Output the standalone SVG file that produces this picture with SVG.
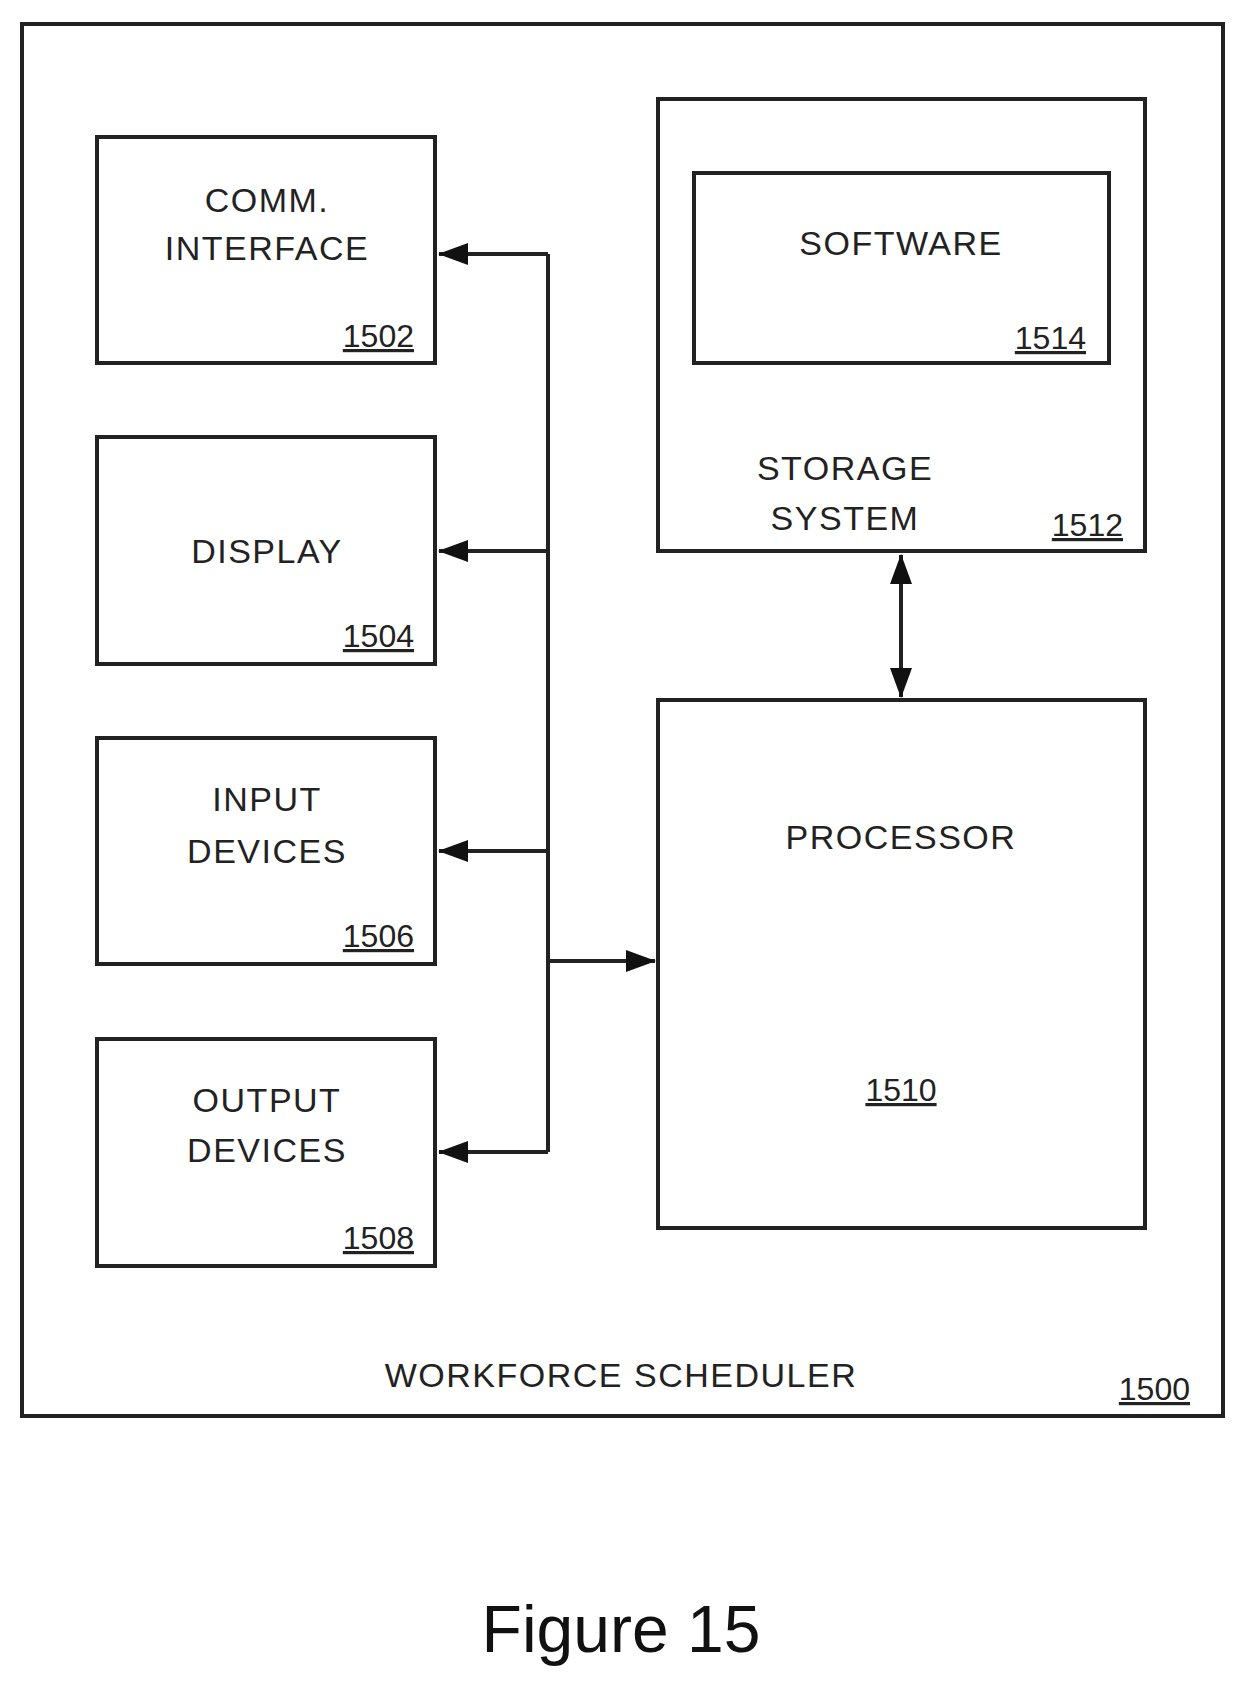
<svg xmlns="http://www.w3.org/2000/svg" width="1247" height="1690" viewBox="0 0 1247 1690">
<style>
.b{fill:none;stroke:#222;stroke-width:4}
.t{font-family:"Liberation Sans",Arial,sans-serif;font-size:34px;fill:#222;text-anchor:middle;letter-spacing:1.5px}
.n{font-family:"Liberation Sans",Arial,sans-serif;font-size:32px;fill:#222;text-anchor:end;text-decoration:underline}
.c{fill:none;stroke:#222;stroke-width:4}
</style>
<defs>
<marker id="a" markerWidth="30" markerHeight="22" refX="29" refY="11" orient="auto-start-reverse" markerUnits="userSpaceOnUse" viewBox="0 0 30 22"><path d="M0,0 L30,11 L0,22 Z" fill="#111"/></marker>
</defs>
<rect width="1247" height="1690" fill="#fff"/>
<g id="n1500"><rect class="b" x="22" y="24" width="1201" height="1392"/><text class="t" x="621" y="1387">WORKFORCE SCHEDULER</text><text class="n" x="1190" y="1400">1500</text></g>
<g id="n1502"><rect class="b" x="97" y="137" width="338" height="226"/><text class="t" x="267" y="212">COMM.</text><text class="t" x="267" y="260">INTERFACE</text><text class="n" x="414" y="347">1502</text></g>
<g id="n1504"><rect class="b" x="97" y="437" width="338" height="227"/><text class="t" x="267" y="563">DISPLAY</text><text class="n" x="414" y="647">1504</text></g>
<g id="n1506"><rect class="b" x="97" y="738" width="338" height="226"/><text class="t" x="267" y="811">INPUT</text><text class="t" x="267" y="863">DEVICES</text><text class="n" x="414" y="947">1506</text></g>
<g id="n1508"><rect class="b" x="97" y="1039" width="338" height="227"/><text class="t" x="267" y="1112">OUTPUT</text><text class="t" x="267" y="1162">DEVICES</text><text class="n" x="414" y="1249">1508</text></g>
<g id="n1512"><rect class="b" x="658" y="99" width="487" height="452"/><text class="t" x="845" y="480">STORAGE</text><text class="t" x="845" y="530">SYSTEM</text><text class="n" x="1123" y="536">1512</text></g>
<g id="n1514"><rect class="b" x="694" y="173" width="415" height="190"/><text class="t" x="901" y="255">SOFTWARE</text><text class="n" x="1086" y="349">1514</text></g>
<g id="n1510"><rect class="b" x="658" y="700" width="487" height="528"/><text class="t" x="901" y="849">PROCESSOR</text><text class="n" x="901" y="1101" style="text-anchor:middle">1510</text></g>
<g id="connectors">
<path class="c" d="M548,254 V1152"/>
<path class="c" d="M548,254 H439" marker-end="url(#a)"/>
<path class="c" d="M548,551 H439" marker-end="url(#a)"/>
<path class="c" d="M548,851 H439" marker-end="url(#a)"/>
<path class="c" d="M548,1152 H439" marker-end="url(#a)"/>
<path class="c" d="M548,961 H655" marker-end="url(#a)"/>
<path class="c" d="M901,555 V697" marker-start="url(#a)" marker-end="url(#a)"/>
</g>
<text x="621" y="1652" style="font-family:'Liberation Sans',Arial,sans-serif;font-size:66px;fill:#111;text-anchor:middle">Figure 15</text>
</svg>
